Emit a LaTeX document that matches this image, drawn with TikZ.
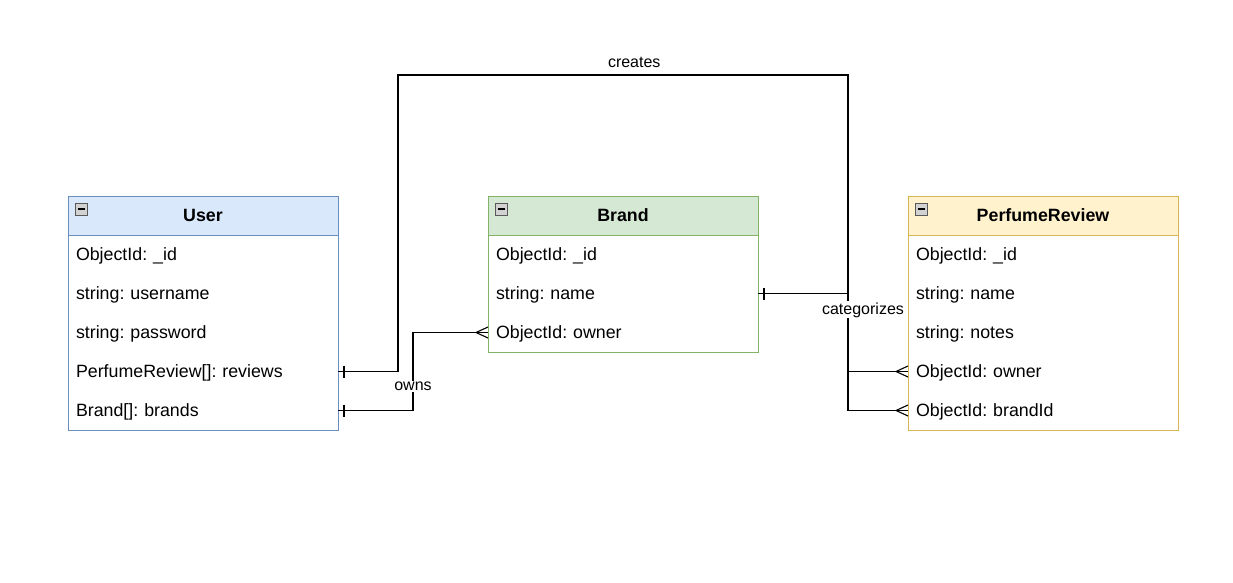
\documentclass[tikz,border=0pt]{standalone}
\usepackage{fontspec}
\setmainfont{Liberation Sans}
\usepackage{tikz}
\usetikzlibrary{arrows.meta,positioning,calc}
\definecolor{userfill}{HTML}{DAE8FC}
\definecolor{userline}{HTML}{6C8EBF}
\definecolor{brandfill}{HTML}{D5E8D4}
\definecolor{brandline}{HTML}{82B366}
\definecolor{revfill}{HTML}{FFF2CC}
\definecolor{revline}{HTML}{D6B656}
\definecolor{ink}{HTML}{000000}
\frenchspacing

\begin{document}
\begin{tikzpicture}[
  x=1pt,y=-1pt,
  node distance=0pt,
  head/.style={minimum width=270pt,minimum height=39pt,inner sep=0pt,outer sep=0pt,text height=16.8pt,text depth=4pt,font=\fontsize{17.8}{21}\selectfont\bfseries,text=ink},
  row/.style={minimum width=270pt,text width=254pt,minimum height=39pt,inner xsep=8pt,inner ysep=0pt,outer sep=0pt,text height=16.8pt,text depth=4pt,align=left,fill=white,font=\fontsize{17.8}{21}\selectfont,text=ink},
  conn/.style={line width=1.1pt,draw=ink},
  lbl/.style={fill=white,inner sep=1pt,font=\fontsize{16}{19}\selectfont,text=ink}
]
  \useasboundingbox[fill=white] (0,0) rectangle (1233,583);

  % User
  \node[head,draw=userline,fill=userfill] (user) at (203,215.5) {User};
  \node[row,below=of user] (u1) {ObjectId: \_id};
  \node[row,below=of u1] (u2) {string: username};
  \node[row,below=of u2] (u3) {string: password};
  \node[row,below=of u3] (u4) {PerfumeReview[]: reviews};
  \node[row,below=of u4] (u5) {Brand[]: brands};
  \draw[userline] (u1.north west) rectangle (u5.south east);

  % Brand
  \node[head,draw=brandline,fill=brandfill] (brand) at (623,215.5) {Brand};
  \node[row,below=of brand] (b1) {ObjectId: \_id};
  \node[row,below=of b1] (b2) {string: name};
  \node[row,below=of b2] (b3) {ObjectId: owner};
  \draw[brandline] (b1.north west) rectangle (b3.south east);

  % PerfumeReview
  \node[head,draw=revline,fill=revfill] (review) at (1043,215.5) {PerfumeReview};
  \node[row,below=of review] (r1) {ObjectId: \_id};
  \node[row,below=of r1] (r2) {string: name};
  \node[row,below=of r2] (r3) {string: notes};
  \node[row,below=of r3] (r4) {ObjectId: owner};
  \node[row,below=of r4] (r5) {ObjectId: brandId};
  \draw[revline] (r1.north west) rectangle (r5.south east);

  % collapse icons
  \foreach \t in {user,brand,review}{
    \draw[gray!70!black,fill=gray!35] ([shift={(7pt,-7pt)}]\t.north west) rectangle ++(12pt,-12pt);
    \draw[ink,line width=1.2pt] ([shift={(9.5pt,-13pt)}]\t.north west) -- ++(7pt,0pt);
  }

  % relations
  \draw[conn] (u4.east) -- (398,0 |- u4.east) -- (398,75)
    -- node[lbl,pos=0.525,above=6pt,fill=none] {creates} (848,75)
    -- (848,0 |- r4.west) -- (r4.west);
  \draw[conn] (u5.east) -- (413,0 |- u5.east)
    -- node[lbl,pos=0.31] {owns} (413,0 |- b3.west) -- (b3.west);
  \draw[conn] (b2.east) -- (848,0 |- b2.east)
    -- node[lbl,pos=0.14,xshift=15pt] {categorizes} (848,0 |- r5.west) -- (r5.west);

  % one ends
  \foreach \n in {u4,u5,b2}
    \draw[conn] ([shift={(6pt,6pt)}]\n.east) -- ++(0pt,-12pt);
  % many ends
  \foreach \n in {b3,r4,r5}
    \draw[conn] ([yshift=5.5pt]\n.west) -- ([xshift=-12pt]\n.west) -- ([yshift=-5.5pt]\n.west);
\end{tikzpicture}
\end{document}
